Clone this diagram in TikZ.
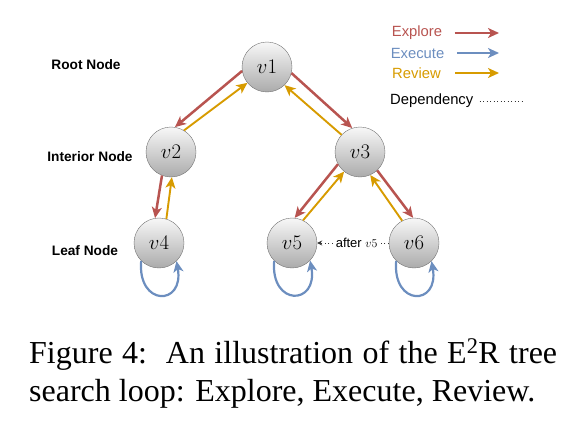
\documentclass[tikz,border=0pt]{standalone}
\usepackage{fontspec}
\setmainfont{Liberation Serif}
\setsansfont{Liberation Sans}
\usetikzlibrary{arrows.meta}

\definecolor{esplora}{HTML}{B85450}
\definecolor{esegui}{HTML}{6C8EBF}
\definecolor{rivedi}{HTML}{D79B00}

\tikzset{
    nodo/.style={circle, draw=black!55, thin, top color=black!3, bottom color=black!33,
        minimum size=50pt, inner sep=0pt, font=\fontsize{21}{22}\selectfont},
    livello/.style={font=\sffamily\bfseries\fontsize{13.7}{15}\selectfont},
    voce/.style={font=\sffamily\fontsize{14.8}{16}\selectfont},
    punta/.style={-{Stealth[length=11pt,width=10pt,inset=3pt]}},
    explore/.style={punta, draw=esplora, line width=2.5pt},
    execute/.style={punta, draw=esegui, line width=2.2pt},
    review/.style={punta, draw=rivedi, line width=1.9pt},
    dipendenza/.style={-{Stealth[length=5pt,width=5pt]}, line width=0.9pt, dash pattern=on 0.9pt off 2.6pt, black!80}
}

\begin{document}
\begin{tikzpicture}[x=1pt, y=-1pt]
    \useasboundingbox (0,0) rectangle (572,420);

        % Nodi
        \node[nodo] (v1) at (267,67) {$v1$};
        \node[nodo] (v2) at (171,152) {$v2$};
        \node[nodo] (v3) at (360,152) {$v3$};
        \node[nodo] (v4) at (159,243) {$v4$};
        \node[nodo] (v5) at (292,243) {$v5$};
        \node[nodo] (v6) at (414,243) {$v6$};

        % Livelli
        \node[livello] (root) at (86,65) {Root Node};
        \node[livello] (inner) at (90,157) {Interior Node};
        \node[livello] (leaf) at (85,251) {Leaf Node};

        % Explore
        \draw[explore] (v1.189) -- (v2.81);
        \draw[explore] (v1.346) -- (v3.108);
        \draw[explore] (v2.249) -- (v4.99);
        \draw[explore] (v3.209) -- (v5.84);
        \draw[explore] (v3.313) -- (v6.92);

        % Review
        \draw[review] (v2.59) -- (v1.219);
        \draw[review] (v3.137) -- (v1.314);
        \draw[review] (v4.73) -- (v2.272);
        \draw[review] (v5.64) -- (v3.231);
        \draw[review] (v6.118) -- (v3.294);

        % Execute
        \draw[execute] (v4.225) .. controls +(-95:46pt) and +(-80:46pt) .. (v4.314);
        \draw[execute] (v5.225) .. controls +(-95:46pt) and +(-80:46pt) .. (v5.316);
        \draw[execute] (v6.225) .. controls +(-95:46pt) and +(-80:46pt) .. (v6.314);

        % Dipendenza
        \draw[dipendenza] (v6) -- (v5)
            node[pos=0.45, fill=white, inner sep=1.5pt, text=black,
                 font=\sffamily\fontsize{13}{14}\selectfont] (dep) {after $v5$};

        % Legenda
        \node[voce, text=esplora] (lexp) at (417,33) {Explore};
        \node[voce, text=esegui] (lexe) at (417.5,53) {Execute};
        \node[voce, text=rivedi] (lrev) at (416.5,73) {Review};
        \node[voce, anchor=west, inner sep=0pt] (ldep) at (390,101) {Dependency};
        \coordinate (fexp) at (499,33);
        \coordinate (fexe) at (499,53);
        \coordinate (frev) at (499,73);
        \coordinate (fdep) at (522,101);
        \draw[explore] (lexp.east) ++(9,0) -- (fexp);
        \draw[execute] (lexe.east) ++(9,0) -- (fexe);
        \draw[review] (lrev.east) ++(11,0) -- (frev);
        \draw[line width=0.9pt, dash pattern=on 0.9pt off 2.6pt, black!80] (ldep.east) ++(6,0) -- (fdep);

        % Didascalia
        \node[anchor=base west, inner sep=0pt, font=\fontsize{32}{38}\selectfont] (cap1) at (29,363)
        {\makebox[528pt][s]{Figure 4:\ \ An illustration of the E\textsuperscript{2}R tree}};
        \node[anchor=base west, inner sep=0pt, font=\fontsize{32}{38}\selectfont] (cap2) at (29,401)
        {search loop: Explore, Execute, Review.};

    \end{tikzpicture}
\end{document}
